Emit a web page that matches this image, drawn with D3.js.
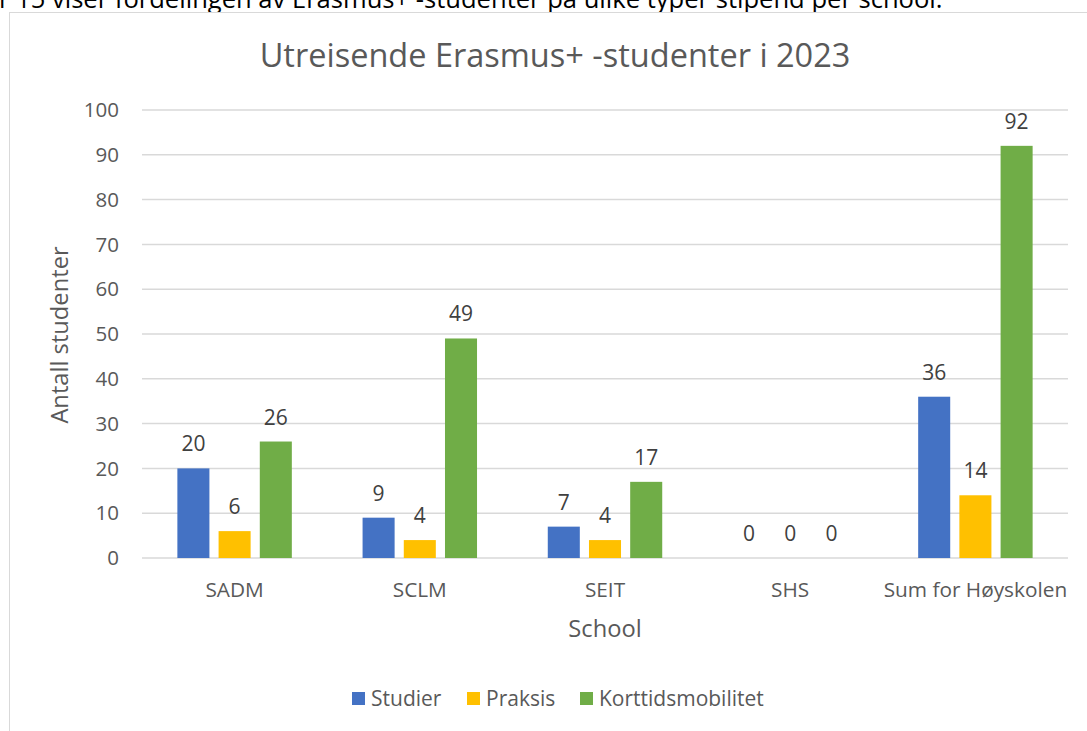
<!DOCTYPE html>
<html>
<head>
<meta charset="utf-8">
<script src="https://cdn.jsdelivr.net/npm/d3@7"></script>
<style>
  body { margin:0; background:#fff; overflow:hidden; }
  svg { display:block; font-family: "Open Sans", Lato, sans-serif; }
</style>
</head>
<body>
<div id="chart"></div>
<script>
const categories = ['SADM', 'SCLM', 'SEIT', 'SHS', 'Sum for Høyskolen']
const seriesNames = ['Studier', 'Praksis', 'Korttidsmobilitet']
const studier = [20, 9, 7, 0, 36]
const praksis = [6, 4, 4, 0, 14]
const korttid = [26, 49, 17, 0, 92]
const yTicks = [0, 10, 20, 30, 40, 50, 60, 70, 80, 90, 100]
const colors = ['#4472c4', '#ffc000', '#70ad47']

const width = 1087, height = 731
const margin = {left:142, right:19, top:110, bottom:173}

const svg = d3.select('#chart').append('svg')
  .attr('width', width)
  .attr('height', height)

// caption line from the document, clipped at the top of the screenshot
const caption = svg.append('text')
  .attr('x', -1)
  .attr('y', 8)
  .attr('font-size', 24)
  .attr('fill', '#000')
  .text('r 15 viser fordelingen av Erasmus+ -studenter på ulike typer stipend per school.')
const capLen = caption.node().getComputedTextLength()
caption.attr('font-size', 24 * 944 / capLen)

// chart frame
svg.append('rect')
  .attr('x', 9.5).attr('y', 12.5)
  .attr('width', 1100).attr('height', 760)
  .attr('fill', '#fff')
  .attr('stroke', '#d9d9d9')
  .attr('stroke-width', 1)

const x0 = d3.scaleBand()
  .domain(categories)
  .range([margin.left, width - margin.right])

const step = x0.bandwidth() * 0.2225
const barW = x0.bandwidth() * 0.173

const y = d3.scaleLinear()
  .domain([0, 100])
  .range([height - margin.bottom, margin.top])

// gridlines
svg.append('g')
  .selectAll('line')
  .data(yTicks)
  .join('line')
  .attr('x1', margin.left)
  .attr('x2', width - margin.right)
  .attr('y1', d => y(d))
  .attr('y2', d => y(d))
  .attr('stroke', '#d9d9d9')
  .attr('stroke-width', 1.5)

// y tick labels
svg.append('g')
  .selectAll('text')
  .data(yTicks)
  .join('text')
  .attr('x', 119)
  .attr('y', d => y(d))
  .attr('dy', '0.35em')
  .attr('text-anchor', 'end')
  .attr('font-size', 20.5)
  .attr('fill', '#595959')
  .text(d => d)

const series = [studier, praksis, korttid]

const groups = svg.append('g')
series.forEach((vals, si) => {
  const off = (si - 1) * step
  groups.append('g')
    .selectAll('rect')
    .data(vals)
    .join('rect')
    .attr('x', (d, i) => x0(categories[i]) + x0.bandwidth() / 2 + off - barW / 2)
    .attr('y', d => y(d))
    .attr('width', barW)
    .attr('height', d => y(0) - y(d))
    .attr('fill', colors[si])

  groups.append('g')
    .selectAll('text')
    .data(vals)
    .join('text')
    .attr('x', (d, i) => x0(categories[i]) + x0.bandwidth() / 2 + off)
    .attr('y', d => y(d) - 17)
    .attr('text-anchor', 'middle')
    .attr('font-size', 21)
    .attr('fill', '#404040')
    .text(d => d)
})

// category labels
svg.append('g')
  .selectAll('text')
  .data(categories)
  .join('text')
  .attr('x', d => x0(d) + x0.bandwidth() / 2)
  .attr('y', 597)
  .attr('text-anchor', 'middle')
  .attr('font-size', 20.8)
  .attr('fill', '#595959')
  .text(d => d)

// title
svg.append('text')
  .attr('x', 555)
  .attr('y', 67)
  .attr('text-anchor', 'middle')
  .attr('font-size', 32.5)
  .attr('fill', '#595959')
  .text('Utreisende Erasmus+ -studenter i 2023')

// axis titles
svg.append('text')
  .attr('x', 605)
  .attr('y', 637)
  .attr('text-anchor', 'middle')
  .attr('font-size', 23.7)
  .attr('fill', '#595959')
  .text('School')

svg.append('text')
  .attr('transform', 'translate(68,335) rotate(-90)')
  .attr('text-anchor', 'middle')
  .attr('font-size', 23.7)
  .attr('fill', '#595959')
  .text('Antall studenter')

// legend
const legendX = [352, 467, 580]
const legend = svg.append('g')
seriesNames.forEach((name, i) => {
  legend.append('rect')
    .attr('x', legendX[i]).attr('y', 692)
    .attr('width', 13).attr('height', 13)
    .attr('fill', colors[i])
  legend.append('text')
    .attr('x', legendX[i] + 19)
    .attr('y', 706)
    .attr('font-size', 21)
    .attr('fill', '#595959')
    .text(name)
})
</script>
</body>
</html>
